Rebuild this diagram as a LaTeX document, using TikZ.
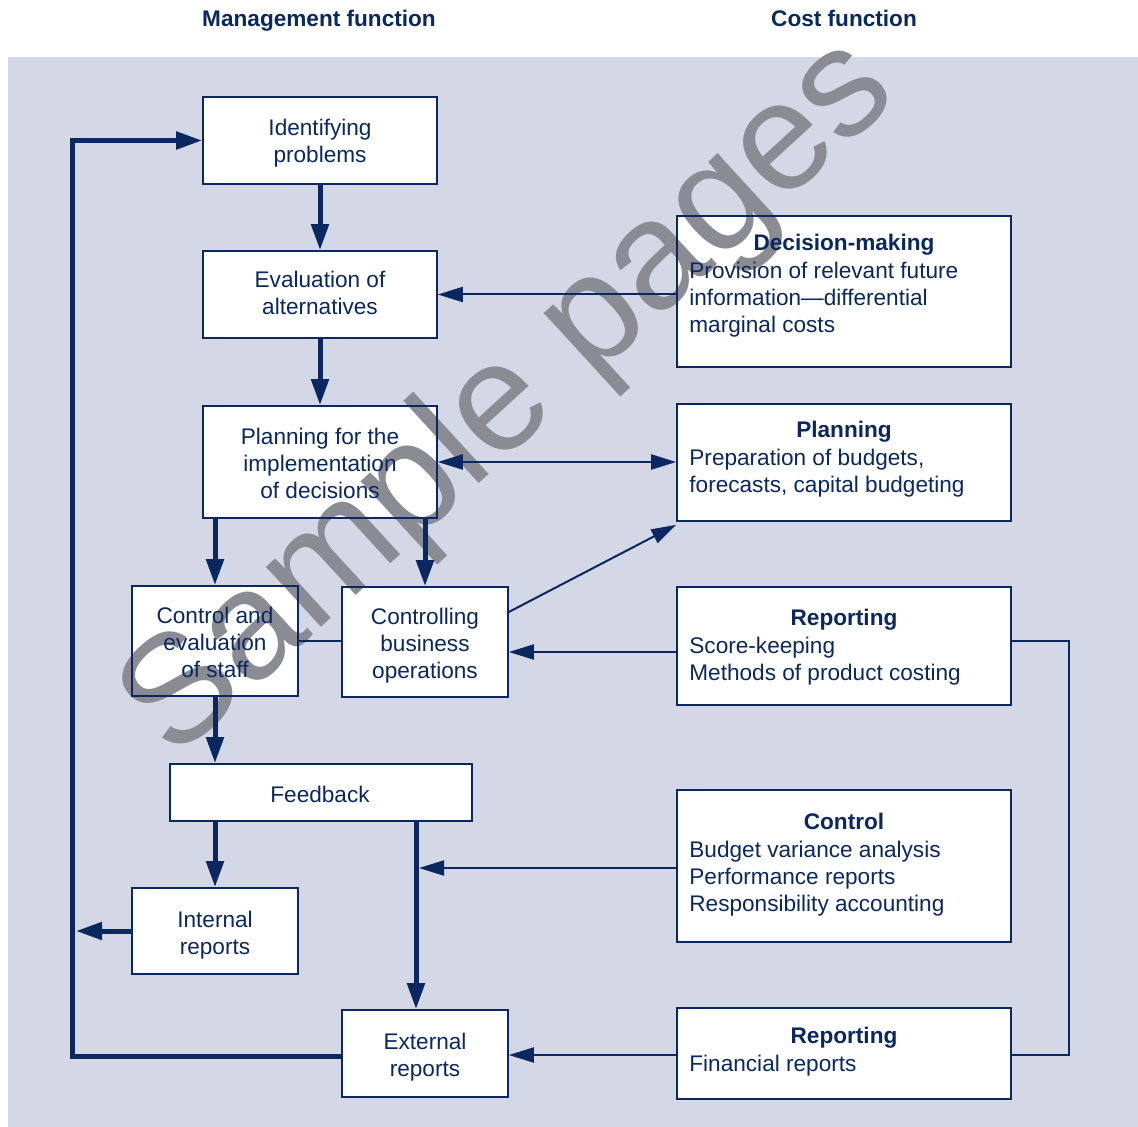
\documentclass[tikz,border=0pt]{standalone}
\usepackage{fontspec}
\setmainfont{Liberation Sans}
\usetikzlibrary{arrows.meta,calc}
\definecolor{navy}{RGB}{10,40,95}
\definecolor{bgc}{RGB}{212,216,230}
\definecolor{wmc}{RGB}{138,139,147}
\pgfdeclarelayer{bglayer}
\pgfdeclarelayer{wmlayer}
\pgfsetlayers{bglayer,wmlayer,main}
\begin{document}
\begin{tikzpicture}[x=0.5pt,y=-0.5pt,
  every node/.style={font=\fontsize{11.3}{13.5}\selectfont, text=navy},
  box/.style={draw=navy, line width=0.8pt, inner sep=0pt},
  boxtext/.style={align=center, inner sep=0pt},
  thickarrow/.style={draw=navy, line width=2.5pt, -{Triangle[length=13pt,width=8.5pt]}},
  thinarrow/.style={draw=navy, line width=1pt, -{Triangle[length=12.5pt,width=7.5pt]}},
  thinline/.style={draw=navy, line width=1pt},
  rtitle/.style={font=\fontsize{11.3}{13.5}\selectfont\bfseries, inner sep=0pt, anchor=base},
  rbody/.style={align=left, inner sep=0pt, anchor=north west},
  header/.style={font=\fontsize{11.3}{13.5}\selectfont\bfseries, inner sep=0pt, anchor=base}]
\useasboundingbox (0,0) rectangle (1138,1127);

\node[header] (h1) at (319,26.5) {Management function};
\node[header] (h2) at (844,26.5) {Cost function};

% left boxes
\node[box, minimum width=117pt, minimum height=43.5pt] (ident) at (320,140.5) {};
\node[box, minimum width=117pt, minimum height=43.5pt] (eval) at (320,294.5) {};
\node[box, minimum width=117pt, minimum height=56pt] (plan) at (320,462) {};
\node[box, minimum width=83pt, minimum height=55pt] (cstaff) at (215,641) {};
\node[box, minimum width=83pt, minimum height=55pt] (cbus) at (425,642) {};
\node[box, minimum width=151pt, minimum height=28.5pt] (feed) at (321,792.5) {};
\node[box, minimum width=83pt, minimum height=43pt] (intr) at (215,931) {};
\node[box, minimum width=83pt, minimum height=43.5pt] (extr) at (425,1053.5) {};

\node[boxtext] (identt) at (320,143) {Identifying\\problems};
\node[boxtext] (evalt) at (320,293) {Evaluation of\\alternatives};
\node[boxtext] (plant) at (320,463) {Planning for the\\implementation\\of decisions};
\node[boxtext] (cstafft) at (215,642) {Control and\\evaluation\\of staff};
\node[boxtext] (cbust) at (425,646) {Controlling\\business\\operations};
\node[boxtext] (feedt) at (320,794.5) {Feedback};
\node[boxtext] (intrt) at (215,935) {Internal\\reports};
\node[boxtext] (extrt) at (425,1057) {External\\reports};

% right boxes
\node[box, minimum width=167pt, minimum height=75.5pt] (dm) at (844,291.5) {};
\node[box, minimum width=167pt, minimum height=58.5pt] (pl) at (844,462.5) {};
\node[box, minimum width=167pt, minimum height=59pt] (rep1) at (844,646) {};
\node[box, minimum width=167pt, minimum height=76pt] (ctl) at (844,866) {};
\node[box, minimum width=167pt, minimum height=45.5pt] (rep2) at (844,1053.5) {};

\node[rtitle] (dmt) at (844,250.5) {Decision-making};
\node[rbody] (dmb) at (689,262) {Provision of relevant future\\information---differential\\marginal costs};
\node[rtitle] (plt) at (844,437.5) {Planning};
\node[rbody] (plb) at (689,449) {Preparation of budgets,\\forecasts, capital budgeting};
\node[rtitle] (r1t) at (844,625.5) {Reporting};
\node[rbody] (r1b) at (689,637) {Score-keeping\\Methods of product costing};
\node[rtitle] (ctt) at (844,829.5) {Control};
\node[rbody] (ctb) at (689,841) {Budget variance analysis\\Performance reports\\Responsibility accounting};
\node[rtitle] (r2t) at (844,1043.5) {Reporting};
\node[rbody] (r2b) at (689,1055) {Financial reports};

% background and box fills
\begin{pgfonlayer}{bglayer}
\fill[bgc] (8,57) rectangle (1138,1127);
\foreach \b in {ident,eval,plan,cstaff,cbus,feed,intr,extr,dm,pl,rep1,ctl,rep2}
  \fill[white] (\b.south west) rectangle (\b.north east);
\end{pgfonlayer}

% coordinates
\coordinate (loop) at (72,0);
\coordinate (fx) at (416,0);
\coordinate (br) at (1069,0);

% thick arrows
\draw[thickarrow] (ident.south) -- (eval.north);
\draw[thickarrow] (eval.south) -- (plan.north);
\draw[thickarrow] (plan.south -| cstaff.north) -- (cstaff.north);
\draw[thickarrow] (plan.south -| cbus.north) -- (cbus.north);
\draw[thickarrow] (cstaff.south) -- (cstaff.south |- feed.north);
\draw[thickarrow] (intr.north |- feed.south) -- (intr.north);
\draw[thickarrow] (feed.south -| fx) -- (extr.north -| fx);
\draw[thickarrow] (intr.west) -- ($(intr.west -| loop)+(4,0)$);
\draw[thickarrow] (extr.west |- 0,1056) -- (loop |- 0,1056) -- (loop |- ident.west) -- (ident.west);

% thin arrows
\draw[thinarrow] (dm.west |- eval.east) -- (eval.east);
\draw[thinarrow, {Triangle[length=12.5pt,width=7.5pt]}-{Triangle[length=12.5pt,width=7.5pt]}] (plan.east) -- (plan.east -| pl.west);
\draw[thinline] (cstaff.east) -- (cstaff.east -| cbus.west);
\draw[thinarrow] ($(cbus.east)+(0,-30)$) -- ($(pl.south west)+(0,3)$);
\draw[thinarrow] (rep1.west |- 0,652) -- (cbus.east |- 0,652);
\draw[thinarrow] (ctl.west |- 0,868) -- ($(fx |- 0,868)+(3,0)$);
\draw[thinline] (rep1.east |- 0,641) -- (br |- 0,641) -- (br |- 0,1055) -- (rep2.east |- 0,1055);
\draw[thinarrow] (rep2.west |- 0,1055) -- (extr.east |- 0,1055);

% watermark
\begin{pgfonlayer}{wmlayer}
\node[font=\fontsize{77}{82}\selectfont, text=wmc, rotate=42.5, inner sep=0pt] (wm) at (511,400) {Sample pages};
\end{pgfonlayer}
\end{tikzpicture}
\end{document}
